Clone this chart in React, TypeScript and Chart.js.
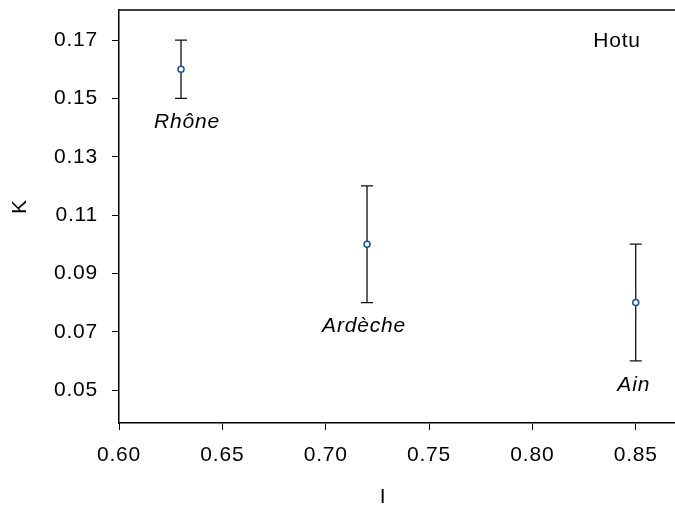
import React, { useEffect, useRef } from "react";
import { Chart, registerables } from "chart.js";

Chart.register(...registerables);

const sites = ["Rhône", "Ardèche", "Ain"];
const iValues = [0.63, 0.72, 0.85];
const kValues = [0.16, 0.1, 0.08];
const kLow = [0.15, 0.08, 0.06];
const kHigh = [0.17, 0.12, 0.1];
const xTicks = [0.6, 0.65, 0.7, 0.75, 0.8, 0.85];
const yTicks = [0.05, 0.07, 0.09, 0.11, 0.13, 0.15, 0.17];
const xRange = [0.6, 0.869];
const yRange = [0.0387, 0.1803];
const panelLabel = "Hotu";
const xTitle = "I";
const yTitle = "K";

const FONT = "'Liberation Sans', Arial, Helvetica, sans-serif";
const LABEL_NUDGE = [6, -3, -2];

const annotPlugin = {
  id: "annot",
  beforeDraw(chart: any) {
    chart.ctx.letterSpacing = "0.8px";
  },
  beforeDatasetsDraw(chart: any) {
    const { ctx, scales } = chart;
    const xs = scales.x;
    const ys = scales.y;
    ctx.save();
    ctx.strokeStyle = "#111";
    ctx.lineWidth = 1.3;
    for (let i = 0; i < iValues.length; i++) {
      const px = xs.getPixelForValue(iValues[i]);
      const yl = ys.getPixelForValue(kLow[i]);
      const yh = ys.getPixelForValue(kHigh[i]);
      ctx.beginPath();
      ctx.moveTo(px, yl);
      ctx.lineTo(px, yh);
      ctx.moveTo(px - 6, yl);
      ctx.lineTo(px + 6, yl);
      ctx.moveTo(px - 6, yh);
      ctx.lineTo(px + 6, yh);
      ctx.stroke();
    }
    ctx.restore();
  },
  afterDraw(chart: any) {
    const { ctx, scales, chartArea } = chart;
    const xs = scales.x;
    const ys = scales.y;
    ctx.save();
    ctx.letterSpacing = "0.8px";
    ctx.strokeStyle = "#000";
    ctx.lineWidth = 1.5;
    ctx.beginPath();
    ctx.moveTo(chartArea.left, chartArea.top);
    ctx.lineTo(chartArea.right, chartArea.top);
    ctx.stroke();

    ctx.fillStyle = "#000";
    ctx.textAlign = "center";
    ctx.textBaseline = "middle";
    ctx.font = `italic 21px ${FONT}`;
    for (let i = 0; i < sites.length; i++) {
      const px = xs.getPixelForValue(iValues[i]);
      const yl = ys.getPixelForValue(kLow[i]);
      ctx.fillText(sites[i], px + LABEL_NUDGE[i], yl + 24);
    }
    ctx.font = `21px ${FONT}`;
    ctx.fillText(panelLabel, chartArea.right - 58, chartArea.top + 31);
    ctx.fillText(xTitle, (chartArea.left + chartArea.right) / 2 - 14, 497);
    ctx.translate(20, (chartArea.top + chartArea.bottom) / 2 - 10);
    ctx.rotate(-Math.PI / 2);
    ctx.fillText(yTitle, 0, 0);
    ctx.restore();
  },
};

export default function App() {
  const ref = useRef<HTMLCanvasElement>(null);
  useEffect(() => {
    if (!ref.current) return;
    const chart = new Chart(ref.current, {
      type: "scatter",
      data: {
        datasets: [
          {
            data: iValues.map((x, i) => ({ x, y: kValues[i] })),
            pointRadius: 3,
            pointBorderWidth: 1.5,
            pointBackgroundColor: "#ffffff",
            pointBorderColor: "#1c5196",
            showLine: false,
          },
        ],
      },
      options: {
        responsive: false,
        animation: false,
        layout: { autoPadding: false, padding: { top: 10, right: 0, left: 0, bottom: 0 } },
        plugins: {
          legend: { display: false },
          tooltip: { enabled: false },
        },
        scales: {
          x: {
            type: "linear",
            min: xRange[0],
            max: xRange[1],
            afterBuildTicks: (s: any) => {
              s.ticks = xTicks.map((v) => ({ value: v }));
            },
            afterFit: (s: any) => {
              s.height = 87;
              s.paddingLeft = 0;
              s.paddingRight = 0;
            },
            grid: {
              display: true,
              drawOnChartArea: false,
              drawTicks: true,
              tickLength: 7,
              color: "#000",
              lineWidth: 1,
            },
            border: { display: true, color: "#000", width: 1.5 },
            ticks: {
              color: "#000",
              padding: 13,
              maxRotation: 0,
              autoSkip: false,
              font: { family: FONT, size: 21 },
              callback: (v: any) => Number(v).toFixed(2),
            },
          },
          y: {
            type: "linear",
            min: yRange[0],
            max: yRange[1],
            afterBuildTicks: (s: any) => {
              s.ticks = yTicks.map((v) => ({ value: v }));
            },
            afterFit: (s: any) => {
              s.width = 119;
              s.paddingTop = 0;
              s.paddingBottom = 0;
            },
            grid: {
              display: true,
              drawOnChartArea: false,
              drawTicks: true,
              tickLength: 7,
              color: "#000",
              lineWidth: 1,
            },
            border: { display: true, color: "#000", width: 1.5 },
            ticks: {
              color: "#000",
              padding: 14,
              autoSkip: false,
              font: { family: FONT, size: 21 },
              callback: (v: any) => Number(v).toFixed(2),
            },
          },
        },
      },
      plugins: [annotPlugin],
    });
    return () => chart.destroy();
  }, []);
  return (
    <div style={{ position: "absolute", left: 0, top: 0, width: 675, height: 510, background: "#fff" }}>
      <canvas ref={ref} width={675} height={510} />
    </div>
  );
}
